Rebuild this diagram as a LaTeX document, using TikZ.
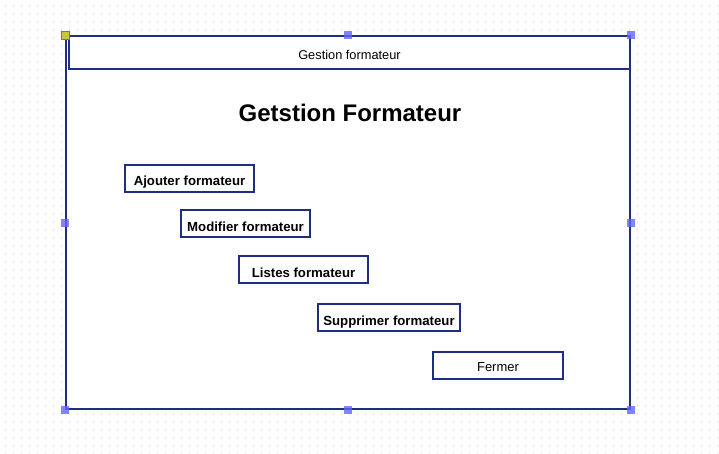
\documentclass[tikz,border=0pt]{standalone}
\usepackage{fontspec}
\setmainfont{Liberation Sans}
\definecolor{frame}{HTML}{1F2F80}
\definecolor{handle}{HTML}{6464FF}
\definecolor{gridgray}{HTML}{E2E2E2}
\definecolor{corner}{HTML}{C8C83C}

\begin{document}
\begin{tikzpicture}[x=1pt,y=-1pt,
	button/.style={fill=white,draw=frame,line width=2,inner sep=0,minimum width=129,minimum height=27,text height=15.4,text depth=0,font=\fontsize{13.2}{15}\selectfont\bfseries},
	grip/.style={fill=handle,fill opacity=0.8,draw=none,inner sep=0,minimum width=8,minimum height=8}]
	\useasboundingbox (0,0) rectangle (719,453);
	% dotted background
	\foreach \i in {0,...,89}
		\foreach \j in {0,...,56}
			\fill[gridgray] (5+8*\i,5+8*\j) rectangle ++(1,2);

	\coordinate (w) at (348,222.5);
	\coordinate (t) at (349.5,52.5);
	\coordinate (h) at (350,113);
	\coordinate (b1) at (189.5,178);
	\coordinate (b2) at (245.5,223.5);
	\coordinate (b3) at (303.5,269.5);
	\coordinate (b4) at (389,317.5);
	\coordinate (b5) at (498,365.5);

	\node (window) at (w) [fill=white,draw=frame,line width=2,inner sep=0,minimum width=564,minimum height=373] {};
	\node (titlebar) at (t) [draw=frame,line width=2,inner sep=0,minimum width=561,minimum height=33,text height=13.6,text depth=0,font=\fontsize{12.8}{15}\selectfont] {Gestion formateur};
	\node (heading) at (h) [font=\fontsize{24}{28}\selectfont\bfseries] {Getstion Formateur};

	\node (ajouter) at (b1) [button] {Ajouter formateur};
	\node (modifier) at (b2) [button] {Modifier formateur};
	\node (listes) at (b3) [button] {Listes formateur};
	\node (supprimer) at (b4) [button,minimum width=142] {Supprimer formateur};
	\node (fermer) at (b5) [button,minimum width=130,text height=11.6,font=\fontsize{13}{15}\selectfont] {Fermer};

	% selection handles
	\node (g1) at (window.north west) [grip,fill=corner,draw=handle,line width=1,fill opacity=1] {};
	\node (g2) at (window.north) [grip] {};
	\node (g3) at (window.north east) [grip] {};
	\node (g4) at (window.west) [grip] {};
	\node (g5) at (window.east) [grip] {};
	\node (g6) at (window.south west) [grip] {};
	\node (g7) at (window.south) [grip] {};
	\node (g8) at (window.south east) [grip] {};
\end{tikzpicture}
\end{document}
